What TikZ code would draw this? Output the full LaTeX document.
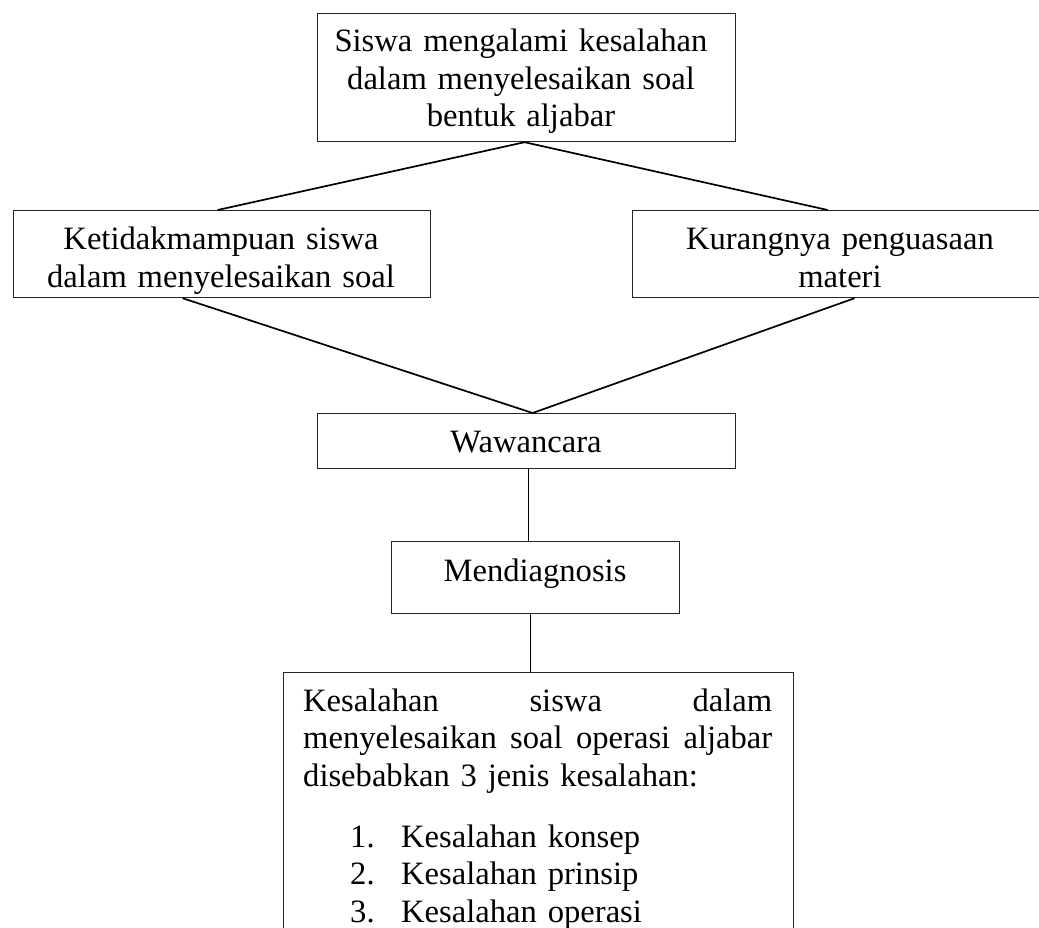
\documentclass[tikz,border=0pt]{standalone}
\usepackage{fontspec}
\setmainfont{Liberation Serif}
\begin{document}
\begin{tikzpicture}[x=1pt,y=-1pt,
  box/.style={draw=black!85, line width=1.2pt, rectangle, inner sep=0pt, anchor=north west},
  lbl/.style={inner sep=0pt, font=\fontsize{32.6pt}{37.5pt}\selectfont, align=center, anchor=base},
  link/.style={draw=black, line width=1.7pt}]
\useasboundingbox (0,0) rectangle (1039,928);
\clip (0,0) rectangle (1039,928);
% boxes
\node[box, minimum width=418pt, minimum height=128pt] (top) at (317,13) {};
\node[box, minimum width=417pt, minimum height=87pt] (lbox) at (13,210) {};
\node[box, minimum width=417pt, minimum height=87pt] (rbox) at (632,210) {};
\node[box, minimum width=418pt, minimum height=55pt] (waw) at (317,413) {};
\node[box, minimum width=288pt, minimum height=72pt] (mend) at (391,541) {};
\node[box, minimum width=510pt, minimum height=320pt] (err) at (283,672) {};
% texts
\node[lbl, text width=418pt] (toptext) at (521,52) {Siswa mengalami kesalahan\\dalam menyelesaikan soal\\bentuk aljabar};
\begin{scope}
\clip (13,210) rectangle (430,297);
\node[lbl, text width=417pt] (ltext) at (221,250) {Ketidakmampuan siswa\\dalam menyelesaikan soal};
\end{scope}
\node[lbl, text width=417pt] (rtext) at (840,250) {Kurangnya penguasaan\\materi};
\node[lbl] (wtext) at (526,452) {Wawancara};
\node[lbl] (mtext) at (535,581) {Mendiagnosis};
\node[lbl, text width=469pt, align=left, anchor=base west] (errtext) at (303,711)
  {\makebox[469pt][l]{Kesalahan\hfill siswa\hfill dalam}\\
   \makebox[469pt][l]{menyelesaikan\hfill soal\hfill operasi\hfill aljabar}\\
   disebabkan 3 jenis kesalahan:};
\node[lbl, text width=320pt, align=left, anchor=base west] (errlist) at (350,847)
  {\makebox[51pt][l]{1.}Kesalahan konsep\\
   \makebox[51pt][l]{2.}Kesalahan prinsip\\
   \makebox[51pt][l]{3.}Kesalahan operasi};
% connectors
\draw[link] ([xshift=-2pt]top.south) -- ([xshift=-4.5pt]lbox.north);
\draw[link] ([xshift=-2pt]top.south) -- ([xshift=-13.5pt]rbox.north);
\draw[link] ([xshift=-39.5pt]lbox.south) -- ([xshift=6pt]waw.north);
\draw[link] ([xshift=13.5pt]rbox.south) -- ([xshift=6pt]waw.north);
\draw[link] ([xshift=2pt]waw.south) -- ([xshift=2pt]waw.south |- mend.north);
\draw[link] ([xshift=-5pt]mend.south) -- ([xshift=-5pt]mend.south |- err.north);
\end{tikzpicture}
\end{document}
